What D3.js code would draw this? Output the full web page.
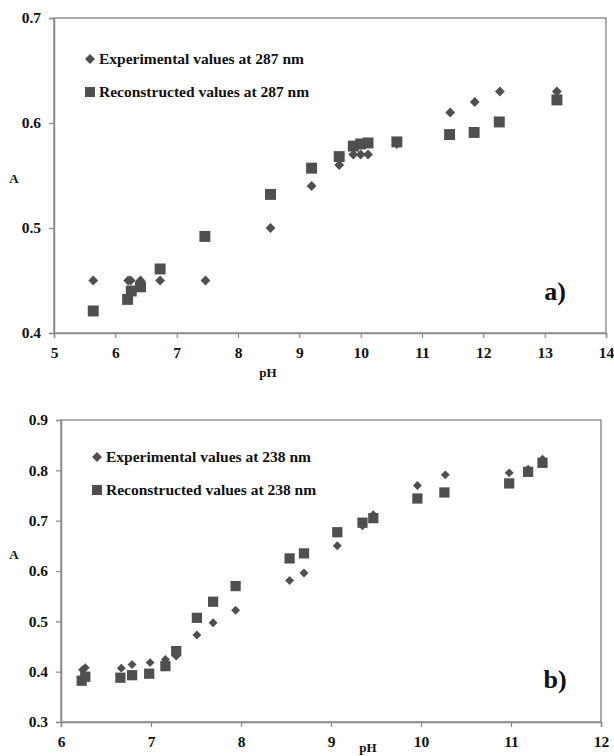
<!DOCTYPE html>
<html>
<head>
<meta charset="utf-8">
<script src="https://cdn.jsdelivr.net/npm/d3@7"></script>
<style>
body { margin: 0; background: #fff; }
text { font-family: "Liberation Serif", "Times New Roman", "DejaVu Serif", serif; font-weight: bold; fill: #111; }
</style>
</head>
<body>
<div id="chart-area"></div>
<script>
// panel a) 287 nm
const phExpA = [5.64, 6.21, 6.25, 6.41, 6.73, 7.47, 8.53, 9.2, 9.65, 9.88, 10.0, 10.12, 10.59, 11.46, 11.86, 12.27, 13.2]
const absExpA = [0.45, 0.45, 0.45, 0.45, 0.45, 0.45, 0.50, 0.54, 0.56, 0.57, 0.57, 0.57, 0.58, 0.61, 0.62, 0.63, 0.63]
const phRecA = [5.64, 6.20, 6.26, 6.41, 6.73, 7.46, 8.53, 9.2, 9.65, 9.88, 10.0, 10.12, 10.59, 11.45, 11.85, 12.26, 13.2]
const absRecA = [0.421, 0.432, 0.440, 0.444, 0.461, 0.492, 0.532, 0.557, 0.568, 0.578, 0.580, 0.581, 0.582, 0.589, 0.591, 0.601, 0.622]
const xTicksA = [5, 6, 7, 8, 9, 10, 11, 12, 13, 14]
const yTicksA = [0.4, 0.5, 0.6, 0.7]

// panel b) 238 nm
const phExpB = [6.24, 6.27, 6.67, 6.79, 6.99, 7.16, 7.28, 7.51, 7.69, 7.94, 8.54, 8.70, 9.07, 9.35, 9.47, 9.96, 10.27, 10.98, 11.19, 11.35]
const absExpB = [0.404, 0.408, 0.407, 0.414, 0.418, 0.424, 0.431, 0.473, 0.497, 0.522, 0.581, 0.596, 0.650, 0.690, 0.712, 0.770, 0.791, 0.795, 0.802, 0.822]
const phRecB = [6.23, 6.27, 6.66, 6.79, 6.98, 7.16, 7.28, 7.51, 7.69, 7.94, 8.54, 8.70, 9.07, 9.35, 9.47, 9.96, 10.26, 10.98, 11.19, 11.35]
const absRecB = [0.382, 0.390, 0.388, 0.393, 0.396, 0.411, 0.441, 0.507, 0.539, 0.570, 0.625, 0.635, 0.677, 0.696, 0.705, 0.744, 0.756, 0.774, 0.797, 0.815]
const xTicksB = [6, 7, 8, 9, 10, 11, 12]
const yTicksB = [0.3, 0.4, 0.5, 0.6, 0.7, 0.8, 0.9]

const svg = d3.select("#chart-area").append("svg")
    .attr("width", 614)
    .attr("height", 756)

const MARK = "#4f4f4f"
const AXIS = "#8a8a8a"
const FONT = "'Liberation Serif', 'Times New Roman', 'DejaVu Serif', serif"

// rotated square, same width and height
const diamond = {
    draw(ctx, size) {
        const r = Math.sqrt(size / 2)
        ctx.moveTo(0, -r); ctx.lineTo(r, 0); ctx.lineTo(0, r); ctx.lineTo(-r, 0); ctx.closePath()
    }
}

function panel(o) {
    const x = d3.scaleLinear().domain(o.xDom).range([o.left, o.right])
    const y = d3.scaleLinear().domain(o.yDom).range([o.bottom, o.top])
    const g = svg.append("g")

    // frame
    g.append("rect")
        .attr("x", o.left).attr("y", o.top)
        .attr("width", o.right - o.left).attr("height", o.bottom - o.top)
        .attr("fill", "none").attr("stroke", "#777").attr("stroke-width", 1.2)

    const xAxis = g.append("g")
        .attr("transform", `translate(0,${o.bottom})`)
        .call(d3.axisBottom(x).tickValues(o.xTicks).tickSize(5).tickPadding(9).tickFormat(d3.format("d")))
    const yAxis = g.append("g")
        .attr("transform", `translate(${o.left},0)`)
        .call(d3.axisLeft(y).tickValues(o.yTicks).tickSize(5).tickPadding(8).tickFormat(d3.format(".1f")))
    for (const a of [xAxis, yAxis]) {
        a.attr("font-family", FONT)
        a.select(".domain").attr("stroke", AXIS).attr("stroke-width", 1.5)
        a.selectAll(".tick line").attr("stroke", AXIS).attr("stroke-width", 1.2)
        a.selectAll("text").attr("font-size", 15.5).attr("font-family", FONT).attr("font-weight", "bold").attr("fill", "#111")
    }

    // experimental first, reconstructed on top
    g.selectAll(".exp").data(o.phExp.map((p, i) => [p, o.absExp[i]]))
        .enter().append("path")
        .attr("transform", d => `translate(${x(d[0])},${y(d[1])})`)
        .attr("d", d3.symbol(diamond, o.dSize))
        .attr("fill", MARK)
    g.selectAll(".rec").data(o.phRec.map((p, i) => [p, o.absRec[i]]))
        .enter().append("path")
        .attr("transform", d => `translate(${x(d[0])},${y(d[1])})`)
        .attr("d", d3.symbol(d3.symbolSquare, o.sSize))
        .attr("fill", MARK)

    // legend
    g.append("path").attr("transform", `translate(${o.legX},${o.legY})`)
        .attr("d", d3.symbol(diamond, 50)).attr("fill", MARK)
    g.append("text").attr("x", o.legX + 9).attr("y", o.legY + 5)
        .attr("font-family", FONT).attr("font-size", 15.5).text(`Experimental values at ${o.nm} nm`)
    g.append("path").attr("transform", `translate(${o.legX},${o.legY + 33})`)
        .attr("d", d3.symbol(d3.symbolSquare, 100)).attr("fill", MARK)
    g.append("text").attr("x", o.legX + 9).attr("y", o.legY + 38)
        .attr("font-family", FONT).attr("font-size", 15.5).text(`Reconstructed values at ${o.nm} nm`)

    g.append("text").attr("x", 14).attr("y", o.aY).attr("text-anchor", "middle")
        .attr("font-family", FONT).attr("font-size", 13).text("A")
    g.append("text").attr("x", o.phX).attr("y", o.phY).attr("text-anchor", "middle")
        .attr("font-family", FONT).attr("font-size", 13).text("pH")
    g.append("text").attr("x", 555).attr("y", o.tagY).attr("text-anchor", "middle")
        .attr("font-family", FONT).attr("font-size", 26).text(o.tag)
}

panel({
    xDom: [5, 14], yDom: [0.4, 0.7], left: 54, right: 606, top: 18, bottom: 333,
    xTicks: xTicksA, yTicks: yTicksA,
    phExp: phExpA, absExp: absExpA, phRec: phRecA, absRec: absRecA,
    dSize: 48, sSize: 120, nm: 287, legX: 90, legY: 59,
    aY: 183, phX: 268, phY: 377, tag: "a)", tagY: 300
})

panel({
    xDom: [6, 12], yDom: [0.3, 0.9], left: 61, right: 601, top: 420, bottom: 722,
    xTicks: xTicksB, yTicks: yTicksB,
    phExp: phExpB, absExp: absExpB, phRec: phRecB, absRec: absRecB,
    dSize: 40, sSize: 105, nm: 238, legX: 97, legY: 457,
    aY: 559, phX: 368, phY: 752, tag: "b)", tagY: 688
})
</script>
</body>
</html>
